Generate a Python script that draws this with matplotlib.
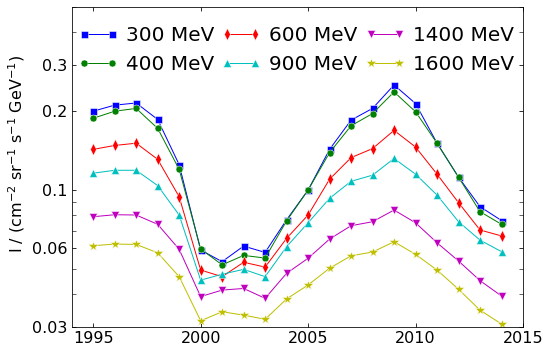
import numpy as np
import matplotlib
matplotlib.use('Agg')
import matplotlib.pyplot as plt
from matplotlib.ticker import FixedLocator, FixedFormatter, LogLocator, NullFormatter

# 年份与各能量的强度
years = list(range(1995, 2015))
labels = ['300 MeV', '400 MeV', '600 MeV', '900 MeV', '1400 MeV', '1600 MeV']

i300 = [0.200, 0.211, 0.215, 0.186, 0.125, 0.059, 0.0533, 0.0611, 0.0578, 0.077,
        0.100, 0.143, 0.185, 0.205, 0.252, 0.214, 0.151, 0.112, 0.0864, 0.0765]
i400 = [0.188, 0.200, 0.205, 0.172, 0.120, 0.0596, 0.0518, 0.0563, 0.0550, 0.0763,
        0.100, 0.139, 0.176, 0.196, 0.237, 0.199, 0.151, 0.112, 0.0827, 0.0740]
i600 = [0.143, 0.148, 0.151, 0.131, 0.0943, 0.0495, 0.0467, 0.0530, 0.0508, 0.0654,
        0.0803, 0.110, 0.133, 0.144, 0.169, 0.146, 0.115, 0.0895, 0.0704, 0.0668]
i900 = [0.116, 0.119, 0.119, 0.104, 0.0803, 0.0453, 0.0477, 0.0498, 0.0467, 0.0608,
        0.0750, 0.0930, 0.108, 0.114, 0.132, 0.115, 0.0957, 0.0757, 0.0644, 0.0582]
i1400 = [0.0791, 0.0805, 0.0803, 0.0740, 0.0594, 0.0392, 0.0415, 0.0421, 0.0386, 0.0481,
         0.0549, 0.0650, 0.0731, 0.0757, 0.0839, 0.0750, 0.0629, 0.0536, 0.0451, 0.0394]
i1600 = [0.0613, 0.0622, 0.0620, 0.0576, 0.0467, 0.0317, 0.0343, 0.0333, 0.0321, 0.0384,
         0.0434, 0.0503, 0.0561, 0.0580, 0.0635, 0.0568, 0.0495, 0.0418, 0.0348, 0.0308]

series = [i300, i400, i600, i900, i1400, i1600]
colors = ['#0000ff', '#008000', '#ff0000', '#00bfbf', '#bf00bf', '#bfbf00']
markers = ['s', 'o', 'd', '^', 'v', '*']
msizes = [7, 7, 8, 8, 8, 10]

yticks = [0.03, 0.06, 0.1, 0.2, 0.3]
yticklabels = ['0.03', '0.06', '0.1', '0.2', '0.3']

fig = plt.figure(figsize=(548 / 72, 346 / 72), dpi=72)
ax = fig.add_axes([71.7 / 548, 19 / 346, 451.3 / 548, 320 / 346])

for vals, lab, c, m, ms in zip(series, labels, colors, markers, msizes):
    ax.plot(years, vals, color=c, marker=m, markersize=ms, lw=1,
            mec='white', mew=0.5, label=lab)

ax.set_yscale('log')
ax.set_xlim(1994, 2015)
ax.set_ylim(0.03, 0.5)
ax.set_xticks([1995, 2000, 2005, 2010, 2015])
ax.yaxis.set_major_locator(FixedLocator(yticks))
ax.yaxis.set_major_formatter(FixedFormatter(yticklabels))
ax.yaxis.set_minor_locator(LogLocator(base=10, subs=np.arange(2, 10)))
ax.yaxis.set_minor_formatter(NullFormatter())

ax.tick_params(which='both', direction='in', top=True, right=True, labelsize=16)
ax.tick_params(which='major', length=4, pad=4)
ax.tick_params(which='minor', length=4)

ax.set_ylabel(r'I / (cm$^{-2}$ sr$^{-1}$ s$^{-1}$ GeV$^{-1}$)', fontsize=16)
ax.yaxis.set_label_coords(-0.10, 0.54)

ax.legend(ncol=3, loc='upper left', bbox_to_anchor=(0.014, 0.942), fontsize=20,
          frameon=False, numpoints=2, handlelength=2.0, handletextpad=0.4,
          columnspacing=0.35, borderaxespad=0, borderpad=0, labelspacing=0.5)

fig.savefig('out.png', dpi=72)
